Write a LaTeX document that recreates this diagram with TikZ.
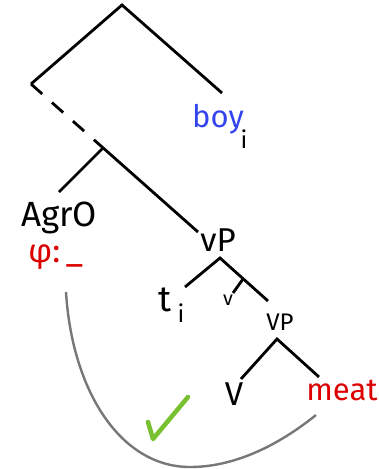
\documentclass[tikz,border=0pt]{standalone}
\usepackage{fontspec}
\setmainfont{Fira Sans}
\definecolor{boyblue}{HTML}{3344EE}
\definecolor{hred}{HTML}{DD0000}
\definecolor{hgreen}{HTML}{77C030}
\definecolor{hgray}{HTML}{777777}
\begin{document}
\begin{tikzpicture}[x=1pt,y=-1pt,
  branch/.style={line width=2.8pt,black},
  lab/.style={inner sep=0pt,font=\fontsize{33}{36}\selectfont},
  smalllab/.style={inner sep=0pt,font=\fontsize{24}{26}\selectfont},
  tinylab/.style={inner sep=0pt,font=\fontsize{20}{22}\selectfont}]
\useasboundingbox (0,0) rectangle (379,469);
% coordinates of the tree
\coordinate (root) at (122,5);
\coordinate (lft) at (31,84);
\coordinate (boyend) at (222,93);
\coordinate (junc) at (103,148);
\coordinate (agrend) at (59,192);
\coordinate (vPend) at (198,232);
\coordinate (vPtop) at (220,258);
\coordinate (tend) at (185,287);
\coordinate (VPend) at (268,301);
\coordinate (vjunc) at (243,279);
\coordinate (vend) at (233,293);
\coordinate (VPtop) at (277,339);
\coordinate (Vend) at (241,379);
\coordinate (meatend) at (319,377);
% labels
\node[lab,text=boyblue,font=\fontsize{31}{34}\selectfont] (boy) at (218,119) {boy};
\node[smalllab] (boyi) at (244,139) {i};
\node[lab,font=\fontsize{35}{38}\selectfont] (agro) at (59,218) {AgrO};
\node[lab,text=hred,anchor=west] (phi) at (28,257) {φ:\,\_};
\node[lab] (vP) at (218,240) {vP};
\node[lab,font=\fontsize{36}{38}\selectfont] (t) at (165,300) {t};
\node[smalllab] (ti) at (181,313) {i};
\node[tinylab] (smallv) at (228,300) {v};
\node[smalllab] (VP) at (280,322) {VP};
\node[lab] (V) at (234,394) {V};
\node[lab,text=hred,font=\fontsize{31}{34}\selectfont] (meat) at (342,390) {meat};
% branches
\draw[branch] (lft) -- (root) -- (boyend);
\draw[branch,dash pattern=on 15pt off 13pt on 15pt off 13pt on 15pt off 13pt on 300pt] (lft) -- (vPend);
\draw[branch] (junc) -- (agrend);
\draw[branch] (tend) -- (vPtop) -- (VPend);
\draw[branch] (vjunc) -- (vend);
\draw[branch] (Vend) -- (VPtop) -- (meatend);
% gray curve
\coordinate (cstart) at (66,292);
\coordinate (cbot) at (190,467);
\coordinate (cend) at (316,415);
\draw[hgray,line width=2.4pt] (cstart) .. controls (72,390) and (120,467) .. (cbot)
  .. controls (240,467) and (285,440) .. (cend);
% check mark
\coordinate (ck1) at (148,422);
\coordinate (ck2) at (153,439);
\coordinate (ck3) at (188,397);
\draw[hgreen,line width=4.5pt,line cap=round,line join=round] (ck1) -- (ck2) -- (ck3);
\end{tikzpicture}
\end{document}
